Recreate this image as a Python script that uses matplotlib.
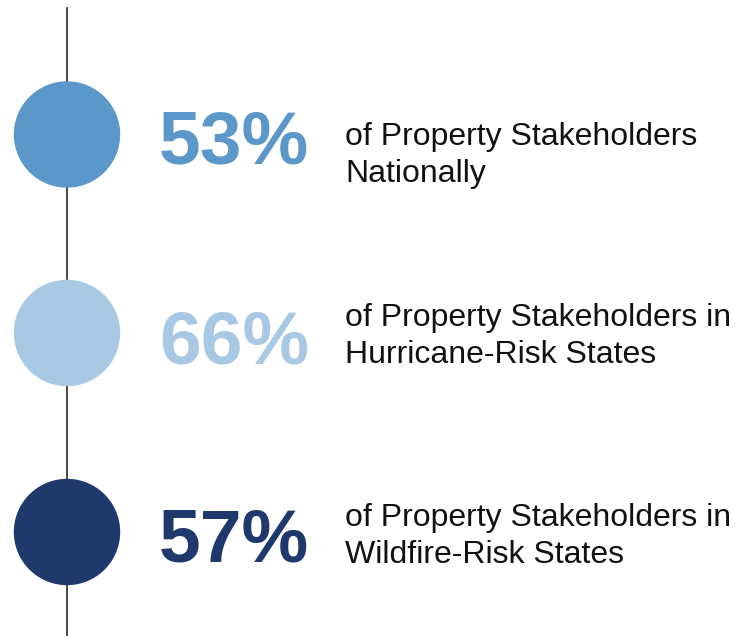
import matplotlib.pyplot as plt
from matplotlib.patches import Circle

# values
percents = ["53%", "66%", "57%"]
line1 = ["of Property Stakeholders", "of Property Stakeholders in", "of Property Stakeholders in"]
line2 = ["Nationally", "Hurricane-Risk States", "Wildfire-Risk States"]
colors = ["#5b97c9", "#a9c8e4", "#1f396d"]

# layout in pixel units
circle_y = [134.5, 333, 532]
pct_base = [163, 363, 562]
lab_base = [145, 326, 526]

fig = plt.figure(figsize=(7.35, 6.36), dpi=100)
ax = fig.add_axes([0, 0, 1, 1])
ax.set_xlim(0, 735)
ax.set_ylim(636, 0)
ax.set_aspect("equal")
ax.axis("off")

ax.plot([67, 67], [8, 636], color="#3a3a3a", lw=1.3, zorder=1)

for i in range(len(percents)):
    ax.add_patch(Circle((67, circle_y[i]), 52.5, color=colors[i], zorder=2))
    ax.text(159, pct_base[i], percents[i], color=colors[i], fontsize=54,
            fontweight="bold", family="Liberation Sans", va="baseline", ha="left")
    ax.text(345, lab_base[i], line1[i], color="#111111", fontsize=23,
            family="Liberation Sans", va="baseline", ha="left")
    ax.text(345, lab_base[i] + 37, line2[i], color="#111111", fontsize=23,
            family="Liberation Sans", va="baseline", ha="left")

fig.savefig("out.png", dpi=100)
